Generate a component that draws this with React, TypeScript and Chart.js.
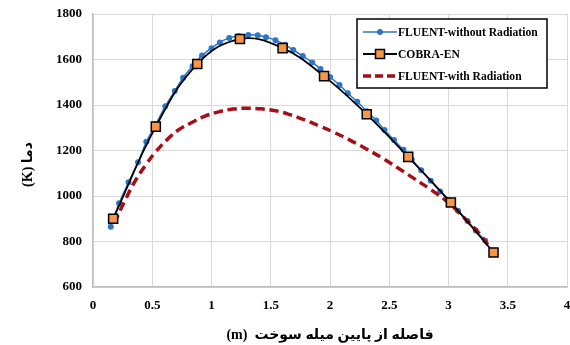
import React, { useEffect, useRef } from "react";
import { Chart, registerables } from "chart.js";

Chart.register(...registerables);

// FLUENT-without Radiation (blue dots)
const blueX = [0.15, 0.22, 0.30, 0.38, 0.45, 0.53, 0.61, 0.69, 0.76, 0.84, 0.92, 1.00, 1.07, 1.15, 1.23, 1.31, 1.39, 1.46, 1.54, 1.62, 1.69, 1.77, 1.85, 1.92, 2.00, 2.08, 2.15, 2.23, 2.31, 2.39, 2.46, 2.54, 2.62, 2.69, 2.77, 2.85, 2.93, 3.00, 3.08, 3.16, 3.23, 3.31];
const blueT = [865, 968, 1060, 1148, 1238, 1315, 1395, 1462, 1520, 1570, 1618, 1650, 1675, 1695, 1703, 1708, 1707, 1698, 1685, 1665, 1642, 1615, 1587, 1558, 1523, 1488, 1452, 1414, 1373, 1332, 1290, 1246, 1203, 1160, 1113, 1067, 1020, 982, 935, 890, 848, 803];

// COBRA-EN (orange squares)
const cobraX = [0.17, 0.53, 0.88, 1.24, 1.60, 1.95, 2.31, 2.66, 3.02, 3.38];
const cobraT = [900, 1305, 1580, 1690, 1650, 1527, 1359, 1172, 971, 752];

// FLUENT-with Radiation (red dashed)
const radX = [0.18, 0.27, 0.36, 0.45, 0.53, 0.63, 0.72, 0.83, 0.94, 1.06, 1.18, 1.30, 1.42, 1.54, 1.66, 1.78, 1.90, 2.02, 2.16, 2.30, 2.44, 2.58, 2.72, 2.86, 3.00, 3.13, 3.26, 3.38];
const radT = [880, 980, 1070, 1140, 1195, 1250, 1290, 1322, 1350, 1370, 1382, 1386, 1383, 1375, 1358, 1336, 1310, 1283, 1248, 1209, 1167, 1121, 1073, 1025, 970, 905, 835, 750];

const legendLabels = ["FLUENT-without Radiation", "COBRA-EN", "FLUENT-with Radiation"];
const xTitle = "(m)  فاصله از پایین میله سوخت";
const yTitle = "(K) دما";

const BLUE = "#2E75C6";
const ORANGE = "#F79646";
const RED = "#A50F15";
const FONT = "'Liberation Serif', 'DejaVu Sans', serif";

const legendPlugin = {
  id: "boxLegend",
  afterDraw(chart: any) {
    const ctx = chart.ctx as CanvasRenderingContext2D;
    const bx = 357, by = 19, bw = 190, bh = 69;
    ctx.save();
    ctx.fillStyle = "#fff";
    ctx.fillRect(bx, by, bw, bh);
    ctx.strokeStyle = "#000";
    ctx.lineWidth = 1.5;
    ctx.strokeRect(bx, by, bw, bh);
    const rows = [32, 54, 76];
    const x0 = 363, x1 = 397, xc = 380;
    ctx.font = `bold 11.6px ${FONT}`;
    ctx.textBaseline = "middle";
    ctx.textAlign = "left";
    rows.forEach((y, i) => {
      ctx.save();
      if (i === 0) {
        ctx.strokeStyle = BLUE; ctx.lineWidth = 1.5;
        ctx.beginPath(); ctx.moveTo(x0, y); ctx.lineTo(x1, y); ctx.stroke();
        ctx.fillStyle = BLUE; ctx.beginPath(); ctx.arc(xc, y, 3, 0, Math.PI * 2); ctx.fill();
      } else if (i === 1) {
        ctx.strokeStyle = "#000"; ctx.lineWidth = 2;
        ctx.beginPath(); ctx.moveTo(x0, y); ctx.lineTo(x1, y); ctx.stroke();
        ctx.fillStyle = ORANGE; ctx.fillRect(xc - 4.5, y - 4.5, 9, 9);
        ctx.lineWidth = 1.5; ctx.strokeRect(xc - 4.5, y - 4.5, 9, 9);
      } else {
        ctx.strokeStyle = RED; ctx.lineWidth = 3.5; ctx.setLineDash([8, 4]);
        ctx.beginPath(); ctx.moveTo(x0, y); ctx.lineTo(x1, y); ctx.stroke();
      }
      ctx.restore();
      ctx.fillStyle = "#000";
      ctx.fillText(legendLabels[i], 398, y + 0.5);
    });
    ctx.restore();
  },
};

export default function App() {
  const ref = useRef<HTMLCanvasElement>(null);
  useEffect(() => {
    const pts = (xs: number[], ys: number[]) => xs.map((x, i) => ({ x, y: ys[i] }));
    const tickFont = { family: FONT, size: 13, weight: "bold" as const };
    const titleFont = { family: FONT, size: 14, weight: "bold" as const };
    const chart = new Chart(ref.current!, {
      type: "line",
      data: {
        datasets: [
          {
            label: legendLabels[0],
            data: pts(blueX, blueT),
            borderColor: BLUE,
            backgroundColor: BLUE,
            borderWidth: 1.5,
            pointRadius: 3,
            pointBorderWidth: 0,
            tension: 0.3,
            order: 2,
          },
          {
            label: legendLabels[1],
            data: pts(cobraX, cobraT),
            borderColor: "#000",
            backgroundColor: ORANGE,
            borderWidth: 1.8,
            pointStyle: "rect",
            pointRadius: 6.4,
            pointBorderColor: "#000",
            pointBackgroundColor: ORANGE,
            pointBorderWidth: 1.5,
            tension: 0.4,
            order: 0,
          },
          {
            label: legendLabels[2],
            data: pts(radX, radT),
            borderColor: RED,
            borderWidth: 3.5,
            borderDash: [9, 5],
            pointRadius: 0,
            tension: 0.4,
            order: 1,
          },
        ],
      },
      options: {
        responsive: false,
        animation: false,
        layout: { autoPadding: false, padding: { left: 0, top: 14, right: 3, bottom: 0 } },
        plugins: { legend: { display: false }, tooltip: { enabled: false } },
        scales: {
          x: {
            type: "linear",
            min: 0,
            max: 4,
            ticks: { stepSize: 0.5, font: tickFont, color: "#000", padding: 11, callback: (v: any) => String(v) },
            grid: { color: "#d9d9d9", lineWidth: 1, drawTicks: false },
            border: { color: "#bfbfbf", width: 1.5 },
            title: { display: true, text: xTitle, font: titleFont, color: "#000", padding: { top: 0, bottom: 1 } },
            afterFit: (s: any) => { s.height = 58; s.paddingLeft = 0; s.paddingRight = 0; },
          },
          y: {
            type: "linear",
            min: 600,
            max: 1800,
            ticks: { stepSize: 200, font: tickFont, color: "#000", padding: 11, callback: (v: any) => String(v) },
            grid: { color: "#d9d9d9", lineWidth: 1, drawTicks: false },
            border: { color: "#bfbfbf", width: 1.5 },
            title: { display: true, text: yTitle + "        ", font: titleFont, color: "#000", padding: { top: 20, bottom: 0 } },
            afterFit: (s: any) => { s.width = 93; s.paddingTop = 0; s.paddingBottom = 0; },
          },
        },
      },
      plugins: [legendPlugin],
    });
    return () => chart.destroy();
  }, []);
  return (
    <div style={{ position: "fixed", left: 0, top: 0, width: 570, height: 345, background: "#fff" }}>
      <canvas ref={ref} width={570} height={345} style={{ display: "block" }} />
    </div>
  );
}
